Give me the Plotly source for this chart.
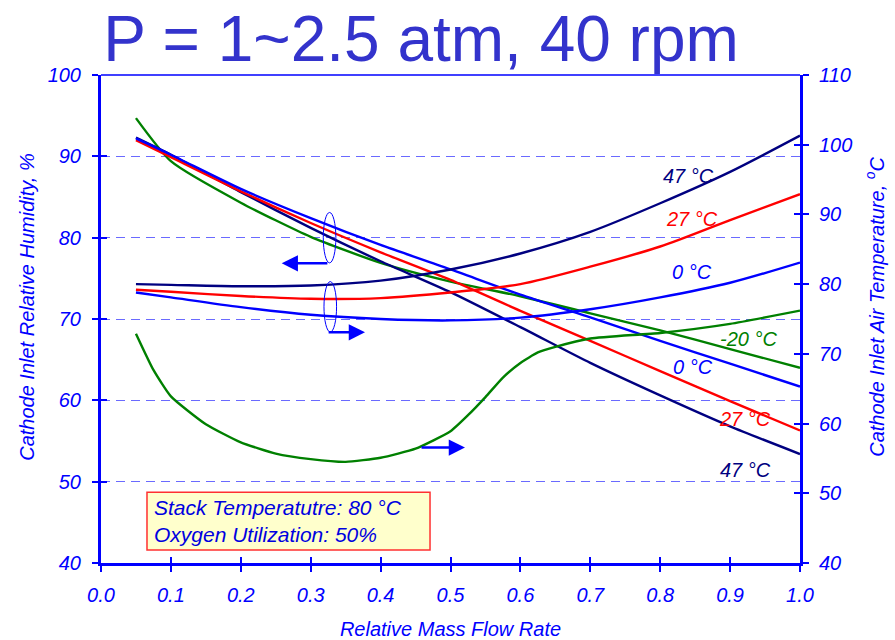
import plotly.graph_objects as go

# Relative mass flow rate samples
flow = [0.05, 0.1, 0.2, 0.3, 0.4, 0.5, 0.6, 0.7, 0.8, 0.9, 1.0]

# Cathode inlet relative humidity (%) by ambient temperature
rh_m20 = [94.7, 89.4, 84.3, 80.1, 76.9, 74.6, 72.8, 70.7, 68.6, 66.3, 64.0]
rh_0 = [92.2, 90.2, 86.0, 82.4, 79.1, 76.1, 73.0, 70.2, 67.3, 64.5, 61.7]
rh_27 = [92.0, 89.9, 85.7, 81.8, 78.2, 74.8, 71.0, 67.3, 63.6, 59.9, 56.3]
rh_47 = [92.3, 90.2, 85.6, 81.2, 77.1, 73.3, 69.0, 64.6, 60.6, 56.8, 53.4]

# Cathode inlet air temperature (°C) by ambient temperature
t_0 = [78.8, 78.1, 76.7, 75.6, 75.0, 74.8, 75.2, 76.4, 78.1, 80.2, 83.1]
t_27 = [79.2, 78.9, 78.3, 77.9, 78.0, 78.8, 80.0, 82.5, 85.4, 89.2, 92.9]
t_47 = [80.0, 79.9, 79.7, 79.8, 80.5, 82.1, 84.4, 87.5, 91.6, 96.1, 101.3]

flow_m20 = [0.05, 0.075, 0.1, 0.15, 0.2, 0.25, 0.3, 0.35, 0.4, 0.45, 0.5,
            0.525, 0.55, 0.575, 0.6, 0.625, 0.65, 0.7, 0.8, 0.9, 1.0]
t_m20 = [72.9, 67.7, 63.9, 59.9, 57.3, 55.7, 54.9, 54.5, 55.1, 56.4, 58.9,
         61.2, 63.8, 66.6, 68.7, 70.2, 71.0, 72.2, 73.0, 74.3, 76.2]

x_ticks = [0.0, 0.1, 0.2, 0.3, 0.4, 0.5, 0.6, 0.7, 0.8, 0.9, 1.0]
rh_ticks = [40, 50, 60, 70, 80, 90, 100]
t_ticks = [40, 50, 60, 70, 80, 90, 100, 110]

NAVY = "#000080"
RED = "#FF0000"
BLUE = "#0000FF"
GREEN = "#008000"
AXIS = "#0000FF"
FONT = "Liberation Sans, Arial, sans-serif"

fig = go.Figure()

lw = 2.4
for y, c in [(rh_m20, GREEN), (rh_47, NAVY), (rh_27, RED), (rh_0, BLUE)]:
    fig.add_trace(go.Scatter(x=flow, y=y, mode="lines",
                             line=dict(color=c, width=lw, shape="spline", smoothing=0.6),
                             yaxis="y", showlegend=False, hoverinfo="skip"))
for xx, y, c, sm in [(flow_m20, t_m20, GREEN, 0.5), (flow, t_47, NAVY, 0.8),
                     (flow, t_27, RED, 0.8), (flow, t_0, BLUE, 0.8)]:
    fig.add_trace(go.Scatter(x=xx, y=y, mode="lines",
                             line=dict(color=c, width=lw, shape="spline", smoothing=sm),
                             yaxis="y2", showlegend=False, hoverinfo="skip"))

# empty traces that bring the inside-tick companion axes to life
fig.add_trace(go.Scatter(x=[], y=[], xaxis="x3", yaxis="y3", showlegend=False))
fig.add_trace(go.Scatter(x=[], y=[], xaxis="x", yaxis="y4", showlegend=False))

tickfont = dict(family=FONT, size=20, color=AXIS, style="italic")
titlefont = dict(family=FONT, size=20, color=AXIS, style="italic")

fig.update_layout(
    width=895, height=640,
    margin=dict(l=101, r=95, t=75, b=77),
    paper_bgcolor="white", plot_bgcolor="white",
    title=dict(text="P = 1~2.5 atm, 40 rpm", x=421 / 895, xanchor="center",
               y=1 - 39 / 640, yanchor="middle",
               font=dict(family=FONT, size=64, color="#3333CC")),
    xaxis=dict(range=[0, 1], tickvals=x_ticks, tickformat=".1f", automargin=False,
               ticks="outside", ticklen=6, tickwidth=2, tickcolor=AXIS,
               showline=True, linewidth=3, linecolor=AXIS, showgrid=False,
               zeroline=False, tickfont=tickfont, ticklabelstandoff=6,
               title=dict(text="Relative Mass Flow Rate", font=titlefont, standoff=18)),
    yaxis=dict(range=[40, 100], tickvals=rh_ticks, automargin=False,
               ticks="outside", ticklen=6, tickwidth=2, tickcolor=AXIS,
               showline=True, linewidth=3, linecolor=AXIS,
               showgrid=True, gridcolor="#6A6AFF", gridwidth=1, griddash="9px,6px",
               zeroline=False, tickfont=tickfont, ticklabelstandoff=7),
    yaxis2=dict(range=[40, 110], tickvals=t_ticks, overlaying="y", side="right",
                anchor="x", automargin=False, ticks="outside", ticklen=6, tickwidth=2,
                tickcolor=AXIS, showline=True, linewidth=3, linecolor=AXIS, showgrid=False,
                zeroline=False, tickfont=tickfont, ticklabelstandoff=6),
    xaxis3=dict(range=[0, 1], tickvals=x_ticks, overlaying="x", anchor="y3", automargin=False,
                ticks="inside", ticklen=6, tickwidth=2, tickcolor=AXIS,
                showticklabels=False, showline=False, showgrid=False, zeroline=False),
    yaxis3=dict(range=[40, 100], tickvals=rh_ticks, overlaying="y", anchor="x3", automargin=False,
                side="left", ticks="inside", ticklen=6, tickwidth=2, tickcolor=AXIS,
                showticklabels=False, showline=False, showgrid=False, zeroline=False),
    yaxis4=dict(range=[40, 110], tickvals=t_ticks, overlaying="y", anchor="x", automargin=False,
                side="right", ticks="inside", ticklen=6, tickwidth=2, tickcolor=AXIS,
                showticklabels=False, showline=False, showgrid=False, zeroline=False),
)

# vertical axis titles, set slightly above the plot centre
fig.add_annotation(x=0, y=0.525, xref="paper", yref="paper", xshift=-74,
                   text="Cathode Inlet Relative Humidity, %", textangle=-90,
                   showarrow=False, xanchor="center", yanchor="middle", font=titlefont)
fig.add_annotation(x=1, y=0.525, xref="paper", yref="paper", xshift=75,
                   text="Cathode Inlet Air Temperature, <sup>o</sup>C", textangle=-90,
                   showarrow=False, xanchor="center", yanchor="middle", font=titlefont)

# top frame
fig.add_shape(type="line", xref="paper", yref="paper", x0=0, x1=1, y0=1, y1=1,
              line=dict(color=AXIS, width=1.5))

# curve-family markers: ellipses with arrows pointing to the relevant axis
fig.add_shape(type="circle", xref="x", yref="y", x0=0.318, x1=0.336, y0=76.9, y1=83.1,
              line=dict(color=BLUE, width=1))
fig.add_shape(type="circle", xref="x", yref="y", x0=0.319, x1=0.337, y0=68.4, y1=74.6,
              line=dict(color=BLUE, width=1))

arrows = [((0.326, 76.85), (0.2585, 76.85)),
          ((0.3235, 68.36), (0.3777, 68.36)),
          ((0.4564, 54.2), (0.5207, 54.2))]
for (x0, y0), (x1, y1) in arrows:
    fig.add_annotation(x=x1, y=y1, ax=x0, ay=y0, xref="x", yref="y", axref="x", ayref="y",
                       text="", showarrow=True, arrowhead=2, arrowsize=1.3,
                       arrowwidth=2.5, arrowcolor=BLUE)

# curve labels
labels = [("47 °C", 0.84, 87.6, NAVY), ("27 °C", 0.845, 82.3, RED),
          ("0 °C", 0.845, 75.8, BLUE), ("-20 °C", 0.926, 67.6, GREEN),
          ("0 °C", 0.847, 64.1, BLUE), ("27 °C", 0.922, 57.7, RED),
          ("47 °C", 0.922, 51.4, NAVY)]
for txt, lx, ly, c in labels:
    fig.add_annotation(x=lx, y=ly, xref="x", yref="y", text=txt, showarrow=False,
                       font=dict(family=FONT, size=20, color=c, style="italic"))

# operating conditions box
fig.add_shape(type="rect", xref="x", yref="y", x0=0.0658, x1=0.4707, y0=41.6, y1=48.7,
              fillcolor="#FFFFCC", line=dict(color="#FF3030", width=1.5), layer="above")
fig.add_annotation(x=0.073, y=45.15, xref="x", yref="y", xanchor="left", yanchor="middle",
                   text="Stack Temperatutre: 80 °C<br>Oxygen Utilization: 50%",
                   showarrow=False, align="left",
                   font=dict(family=FONT, size=21, color="#0000E0", style="italic"))

fig.write_html("out.html")
